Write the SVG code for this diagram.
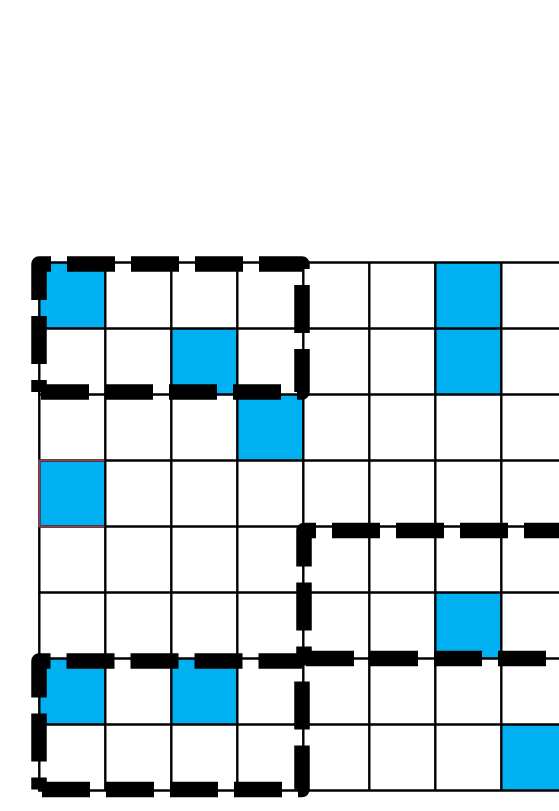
<svg xmlns="http://www.w3.org/2000/svg" width="559" height="811" viewBox="0 0 559 811">
  <style>
    .cell { fill: #00B0F0; }
    .grid line { stroke: #000; stroke-width: 2.4; }
    .sel { fill: none; stroke: #000; stroke-width: 15.5; stroke-dasharray: 48 16; stroke-dashoffset: 36; stroke-linejoin: round; stroke-linecap: butt; }
  </style>
  <rect x="0" y="0" width="559" height="811" fill="#fff"/>
  <g id="cells">
    <rect class="cell" x="39.3" y="262.5" width="66" height="66"/>
    <rect class="cell" x="171.3" y="328.5" width="66" height="66"/>
    <rect class="cell" x="435.3" y="262.5" width="66" height="66"/>
    <rect class="cell" x="435.3" y="328.5" width="66" height="66"/>
    <rect class="cell" x="237.3" y="394.5" width="66" height="66"/>
    <rect class="cell" x="39.3" y="460.5" width="66" height="66"/>
    <rect class="cell" x="435.3" y="592.5" width="66" height="66"/>
    <rect class="cell" x="39.3" y="658.5" width="66" height="66"/>
    <rect class="cell" x="171.3" y="658.5" width="66" height="66"/>
    <rect class="cell" x="501.3" y="724.5" width="66" height="66"/>
  </g>
  <g id="grid" class="grid">
    <line x1="39.3" y1="262.5" x2="39.3" y2="790.5"/>
    <line x1="105.3" y1="262.5" x2="105.3" y2="790.5"/>
    <line x1="171.3" y1="262.5" x2="171.3" y2="790.5"/>
    <line x1="237.3" y1="262.5" x2="237.3" y2="790.5"/>
    <line x1="303.3" y1="262.5" x2="303.3" y2="790.5"/>
    <line x1="369.3" y1="262.5" x2="369.3" y2="790.5"/>
    <line x1="435.3" y1="262.5" x2="435.3" y2="790.5"/>
    <line x1="501.3" y1="262.5" x2="501.3" y2="790.5"/>
    <line x1="38.1" y1="262.5" x2="567.3" y2="262.5"/>
    <line x1="38.1" y1="328.5" x2="567.3" y2="328.5"/>
    <line x1="38.1" y1="394.5" x2="567.3" y2="394.5"/>
    <line x1="38.1" y1="460.5" x2="567.3" y2="460.5"/>
    <line x1="38.1" y1="526.5" x2="567.3" y2="526.5"/>
    <line x1="38.1" y1="592.5" x2="567.3" y2="592.5"/>
    <line x1="38.1" y1="658.5" x2="567.3" y2="658.5"/>
    <line x1="38.1" y1="724.5" x2="567.3" y2="724.5"/>
    <line x1="38.1" y1="790.5" x2="567.3" y2="790.5"/>
  </g>
  <polyline points="104.3,460.5 39.3,460.5 39.3,526.5 104.3,526.5" fill="none" stroke="#8E4254" stroke-width="2.2"/>
  <g id="selections">
    <path id="sel-top-left" class="sel" d="M39,392 V264 H302 V392 Z"/>
    <path id="sel-middle-right" class="sel" d="M304,658.5 V530.5 H567 V658.5 Z"/>
    <path id="sel-bottom-left" class="sel" d="M39,789.5 V661 H302 V789.5 Z"/>
  </g>
</svg>
